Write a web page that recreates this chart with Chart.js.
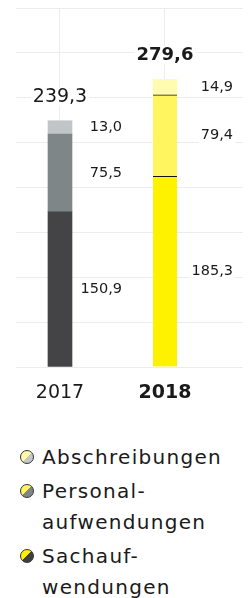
<!DOCTYPE html>
<html lang="de">
<head>
<meta charset="utf-8">
<title>Aufwendungen 2017 / 2018</title>
<script src="https://cdn.jsdelivr.net/npm/chart.js@4/dist/chart.umd.min.js"></script>
<style>
  html, body { margin:0; padding:0; background:#fff; }
  #wrap { position:relative; width:251px; height:598px; overflow:hidden; font-family:"DejaVu Sans", sans-serif; color:#1a1a1a; }
  #chart-box { position:absolute; left:0; top:0; width:251px; height:420px; }
  #legend { position:absolute; left:0; top:442px; margin:0; padding:0; list-style:none; }
  #legend li { position:relative; padding-left:42px; font-size:20px; line-height:31px; letter-spacing:1.3px; white-space:pre-line; margin-bottom:3px; }
  #legend .dot { position:absolute; left:20px; top:8px; width:14px; height:14px; box-sizing:border-box; border:1px solid #333; border-radius:50%; }
</style>
</head>
<body>
<div id="wrap">
  <div id="chart-box"><canvas id="c"></canvas></div>
  <ul id="legend"></ul>
</div>
<script>
// Werte in Mio. EUR
const years = ['2017', '2018']
const sachaufwand = [150.9, 185.3]
const personalaufwand = [75.5, 79.4]
const abschreibungen = [13.0, 14.9]
const totals = [239.3, 279.6]
const yMax = 349

// Farben je Jahr (2017 grau, 2018 gelb)
const colSach = ['#444446', '#fff200']
const colPers = ['#7f8687', '#fff55f']
const colAbs = ['#c2c5c5', '#fffbb0']

const FONT = '"DejaVu Sans", sans-serif'
const segOffset = [62, 68] // rechter Rand der Segment-Labels ab Balkenmitte
const fmtNum = v => v.toFixed(1).replace('.', ',')
const pts = arr => arr.map((v, i) => ({ x: i, y: v }))

function drawLabel(ctx, txt, x, y, align, font) {
  ctx.font = font
  const w = ctx.measureText(txt).width
  const left = align === 'right' ? x - w : x - w / 2
  ctx.fillStyle = '#fff'
  ctx.fillRect(left - 2, y - 9, w + 4, 18)
  ctx.fillStyle = '#1a1a1a'
  ctx.textAlign = align
  ctx.textBaseline = 'middle'
  ctx.fillText(txt, x, y)
}

const valueLabels = {
  id: 'valueLabels',
  afterDatasetsDraw(chart) {
    const ctx = chart.ctx
    ctx.save()
    chart.data.datasets.forEach((ds, di) => {
      chart.getDatasetMeta(di).data.forEach((bar, i) => {
        const yMid = (bar.y + bar.base) / 2
        drawLabel(ctx, fmtNum(ds.data[i].y), bar.x + segOffset[i], yMid, 'right', `14.5px ${FONT}`)
      })
    })
    const top = chart.getDatasetMeta(chart.data.datasets.length - 1)
    top.data.forEach((bar, i) => {
      const f = i === 1 ? `bold 18px ${FONT}` : `19px ${FONT}`
      drawLabel(ctx, fmtNum(totals[i]), bar.x, bar.y - 24, 'center', f)
    })
    ctx.restore()
  }
}

const sep = i => i === 1 ? { top: 1, right: 0, bottom: 0, left: 0 } : 0

const chart = new Chart(document.getElementById('c').getContext('2d'), {
  type: 'bar',
  data: {
    datasets: [
      { label: 'Sachauf-\nwendungen', data: pts(sachaufwand), backgroundColor: colSach, borderColor: '#111',
        borderWidth: ctx => sep(ctx.dataIndex), stack: 'k', barThickness: 24, legendCol: ['#ffee00', '#3f3f41'] },
      { label: 'Personal-\naufwendungen', data: pts(personalaufwand), backgroundColor: colPers, borderColor: '#111',
        borderWidth: ctx => sep(ctx.dataIndex), stack: 'k', barThickness: 24, legendCol: ['#fff35e', '#7f8687'] },
      { label: 'Abschreibungen', data: pts(abschreibungen), backgroundColor: colAbs, borderWidth: 0,
        stack: 'k', barThickness: 24, legendCol: ['#fff9a8', '#c4c7c7'] },
    ]
  },
  options: {
    responsive: true,
    maintainAspectRatio: false,
    animation: false,
    layout: { padding: { left: 16, right: 8, top: 8, bottom: 0 } },
    plugins: { legend: { display: false }, tooltip: { enabled: false } },
    scales: {
      x: {
        type: 'linear',
        min: -0.419,
        max: 1.743,
        offset: false,
        afterBuildTicks: s => { s.ticks = years.map((y, i) => ({ value: i })) },
        afterFit: s => { s.height = 53 },
        border: { display: false },
        grid: { color: '#ececec', drawTicks: false, offset: false },
        ticks: {
          padding: 15,
          color: '#1a1a1a',
          callback: v => years[v],
          font: ctx => ({ family: FONT, size: 19, weight: ctx.tick && ctx.tick.value === 1 ? 'bold' : 'normal' })
        }
      },
      y: {
        min: 0,
        max: yMax,
        stacked: true,
        afterFit: s => { s.width = 0 },
        border: { display: false },
        grid: { color: '#ececec', drawTicks: false },
        ticks: { display: false, count: 9 }
      }
    }
  },
  plugins: [valueLabels]
})

// Legende (oben -> unten wie im Stapel)
const legendEl = document.getElementById('legend')
chart.data.datasets.slice().reverse().forEach(ds => {
  const li = document.createElement('li')
  const dot = document.createElement('span')
  dot.className = 'dot'
  dot.style.background = `linear-gradient(135deg, ${ds.legendCol[0]} 50%, ${ds.legendCol[1]} 50%)`
  li.appendChild(dot)
  li.appendChild(document.createTextNode(ds.label))
  legendEl.appendChild(li)
})
</script>
</body>
</html>
